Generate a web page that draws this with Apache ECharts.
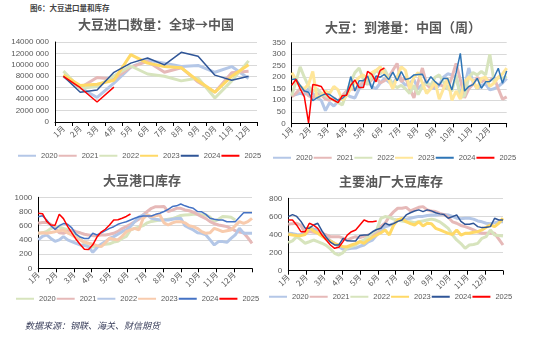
<!DOCTYPE html>
<html><head><meta charset="utf-8">
<script src="https://cdn.jsdelivr.net/npm/echarts@6/dist/echarts.min.js"></script>
<style>
html,body{margin:0;padding:0;background:#fff;width:539px;height:338px;overflow:hidden;}
.c{position:absolute;}
#hdr{position:absolute;left:30px;top:2px;font:bold 7.5px "Noto Sans CJK SC",sans-serif;color:#444;white-space:nowrap;}
#ftr{position:absolute;left:25px;top:319px;font:italic 9px "Noto Sans CJK SC",sans-serif;color:#3a3f5c;white-space:nowrap;}
</style></head><body>
<div id="hdr">图6：大豆进口量和库存</div>
<div id="c1" class="c" style="left:0;top:0;width:270px;height:170px"></div>
<div id="c2" class="c" style="left:265px;top:0;width:274px;height:170px"></div>
<div id="c3" class="c" style="left:0;top:165px;width:270px;height:173px"></div>
<div id="c4" class="c" style="left:265px;top:165px;width:274px;height:173px"></div>
<div id="ftr">数据来源：钢联、海关、财信期货</div>
<script>
// ---------- labels ----------
const years = ['2020','2021','2022','2023','2024','2025'];
const months = ['1月','2月','3月','4月','5月','6月','7月','8月','9月','10月','11月','12月'];
const monthTicks = months.concat(['']);
const weeks = ['W1','W2','W3','W4','W5','W6','W7','W8','W9','W10','W11','W12','W13','W14','W15','W16','W17','W18','W19','W20','W21','W22','W23','W24','W25','W26','W27','W28','W29','W30','W31','W32','W33','W34','W35','W36','W37','W38','W39','W40','W41','W42','W43','W44','W45','W46','W47','W48','W49','W50','W51','W52'];

// ---------- chart 1: 大豆进口数量 (吨, 月) ----------
const imp2020 = [8000000,6000000,4300000,6800000,9600000,10800000,10300000,9700000,9900000,8700000,9700000,7600000];
const imp2021 = [8100000,6000000,7800000,7500000,9600000,10600000,8700000,9500000,7000000,5200000,8600000,8900000];
const imp2022 = [8900000,5900000,6200000,8100000,9800000,8400000,8000000,7200000,7700000,4200000,7200000,10700000];
const imp2023 = [8200000,6400000,6600000,7300000,11800000,10300000,9700000,9500000,7200000,5200000,8000000,10000000];
const imp2024 = [8000000,5200000,5600000,8700000,10300000,11200000,10000000,12200000,11500000,8200000,7300000,8000000];
const imp2025 = [8000000,6000000,3500000,6100000];

// ---------- chart 2: 到港量 (周) ----------
const arr2020 = [120,125,130,125,150,130,110,100,55,90,75,95,110,125,115,110,150,170,185,160,150,175,195,180,170,200,185,165,175,190,150,170,180,160,150,165,200,215,210,200,130,160,240,180,150,165,170,145,150,160,175,195];
const arr2021 = [115,130,150,140,120,110,130,125,105,100,110,95,120,140,150,145,165,180,170,190,200,175,185,200,230,260,180,200,150,110,180,240,170,150,165,170,160,150,200,260,190,110,150,170,200,180,190,185,200,150,105,115];
const arr2022 = [120,180,245,200,160,140,150,130,120,110,100,90,80,130,180,220,240,190,170,200,230,215,235,200,170,155,165,150,130,165,125,160,175,165,200,210,180,150,140,210,110,120,200,220,210,225,210,300,180,200,195,205];
const arr2023 = [220,190,160,150,170,225,110,120,140,130,160,145,100,120,150,180,200,210,190,220,230,245,215,190,150,200,245,230,150,200,220,175,130,150,180,105,150,195,100,140,105,180,200,185,150,195,200,160,175,200,215,240];
const arr2024 = [190,192,165,140,135,98,110,120,128,125,112,100,108,125,203,140,185,185,205,150,205,200,212,190,222,185,225,190,195,210,212,213,174,202,181,166,195,195,145,220,304,140,160,168,195,152,180,182,199,239,174,227];
const arr2025 = [165,190,150,115,2,168,165,160,130,110,100,90,120,122,165,188,155,155,225,212,180,230,240];

// ---------- chart 3: 港口库存 (周) ----------
const port2020 = [493,500,520,560,590,580,560,545,530,480,420,350,305,300,310,320,340,345,370,380,420,450,540,563,580,600,640,660,670,680,680,690,700,720,745,750,755,760,760,755,750,720,660,690,728,725,718,680];
const port2021 = [634,645,648,620,560,500,493,520,540,516,500,480,470,460,460,470,470,480,493,520,560,587,620,657,690,751,800,845,868,868,870,800,820,845,845,822,810,790,760,728,700,657,630,610,600,587,560,530,510,500,430,352];
const port2022 = [399,450,470,420,380,400,446,400,376,352,329,320,305,225,290,340,376,420,446,480,516,540,587,657,720,751,751,704,690,680,680,680,690,700,704,600,570,540,500,493,470,400,329,376,376,366,420,470,563,493,493,493];
const port2023 = [493,500,493,505,516,530,540,500,470,430,399,370,352,340,320,305,360,422,410,399,450,516,540,563,540,700,751,728,740,751,640,610,640,657,657,640,600,587,560,516,493,500,563,540,516,530,540,600,657,634,657,704];
const port2024 = [725,740,680,600,549,600,630,620,570,480,440,420,420,493,470,500,530,563,586,620,640,656,680,705,727,735,737,737,760,775,800,830,870,880,905,880,860,845,800,795,760,704,690,680,680,656,656,656,720,783,783,783];
const port2025 = [775,770,660,610,605,760,700,590,500,410,335,270,265,330,440,510,550,610,680,685,705,730,765];

// ---------- chart 4: 主要油厂库存 (周) ----------
const mill2020 = [413,410,400,398,431,468,460,450,420,376,330,302,265,236,240,247,250,270,284,320,339,394,440,486,500,520,560,560,570,580,590,600,600,610,615,615,620,620,615,600,580,575,580,580,570,550,540,524,520,530,540,540];
const mill2021 = [513,520,524,500,413,432,425,418,413,395,376,376,376,360,339,360,376,365,380,395,395,430,490,524,600,650,690,690,700,660,680,700,708,672,660,653,634,620,590,540,524,500,487,470,450,430,413,413,413,413,350,284];
const mill2022 = [310,330,376,340,303,320,339,321,303,280,240,192,173,200,250,266,284,320,339,376,420,450,579,598,590,570,560,550,540,540,530,540,550,560,570,560,540,505,468,395,340,300,247,284,290,302,358,376,450,394,390,384];
const mill2023 = [402,395,390,387,400,480,440,413,380,350,328,300,284,266,266,284,300,321,303,340,370,395,420,450,395,500,561,579,541,520,505,541,494,524,520,468,450,431,413,400,450,394,413,413,425,431,450,480,505,487,524,579];
const mill2024 = [598,620,600,545,470,470,505,524,440,370,315,285,284,358,330,328,328,390,395,395,430,455,469,524,505,520,545,561,616,640,660,672,653,672,661,640,628,620,579,598,616,545,513,513,524,487,476,480,487,579,561,561];
const mill2025 = [560,560,503,431,431,524,503,468,394,339,284,247,258,321,394,431,450,505,560,541,541,548];

// ---------- common styling ----------
const FONT = '"Liberation Sans","Noto Sans CJK SC",sans-serif';
const GRAY = '#595959';
function ser(name, data, color, width, xi) {
  return {name:name, type:'line', data:data, xAxisIndex:xi||0, symbol:'none', smooth:false,
    lineStyle:{color:color, width:width}, itemStyle:{color:color},
    z: width < 2 ? 5 : 2, animation:false};
}
function title(text, left, top) {
  return {text:text, left:left, top:top, padding:0,
    textStyle:{fontSize:13, fontWeight:'bold', color:GRAY, fontFamily:'"Noto Sans CJK SC",sans-serif'}};
}
function legend(left, top) {
  return {data:years, left:left, top:top, itemWidth:18, itemHeight:8, itemGap:0, padding:0,
    itemStyle:{opacity:0},
    textStyle:{fontSize:7.5, color:GRAY, fontFamily:FONT}};
}
function yAxis(max, interval, fmt) {
  return {type:'value', min:0, max:max, interval:interval,
    axisLine:{show:true, lineStyle:{color:'#000', width:1}}, axisTick:{show:false},
    splitLine:{lineStyle:{color:'#d9d9d9', width:1}},
    axisLabel:{fontSize:8, color:GRAY, fontFamily:FONT, margin:6, formatter:fmt || function(v){return String(v);}}};
}
const xLab = {fontSize:8, color:GRAY, fontFamily:'"Noto Sans CJK SC",sans-serif', rotate:45, interval:0, margin:5};
function weekX() {
  return [
    {type:'category', data:weeks, boundaryGap:false, show:false},
    {type:'category', data:monthTicks, boundaryGap:false, position:'bottom',
      axisLine:{lineStyle:{color:'#000', width:1}}, axisTick:{show:true, length:4, interval:0, lineStyle:{color:'#000'}},
      axisLabel:xLab, splitLine:{show:false}}
  ];
}
function make(id, opt) {
  const ch = echarts.init(document.getElementById(id), null, {renderer:'canvas'});
  opt.animation = false;
  ch.setOption(opt);
}
function fmtBig(v) {
  if (v === 0) return '0';
  return Math.floor(v/1000) + ' ' + ('000' + (v % 1000)).slice(-3);
}

// chart 1
make('c1', {
  title: title('大豆进口数量：全球→中国', 78, 18),
  legend: legend(17, 152),
  grid: {left:55, right:13, top:42, bottom:48, outerBoundsMode:'none'},
  xAxis: {type:'category', data:months, boundaryGap:true,
    axisLine:{lineStyle:{color:'#000', width:1}}, axisTick:{show:true, length:4, lineStyle:{color:'#000'}},
    axisLabel:xLab},
  yAxis: yAxis(14000000, 2000000, fmtBig),
  series: [
    ser('2020', imp2020, '#b4c7e7', 3),
    ser('2021', imp2021, '#e6b9b8', 3),
    ser('2022', imp2022, '#d7e4bd', 3),
    ser('2023', imp2023, '#ffd966', 3),
    ser('2024', imp2024, '#2f5597', 1.5),
    ser('2025', imp2025, '#ff0000', 1.5)
  ]
});

// chart 2
make('c2', {
  title: title('大豆：到港量：中国（周）', 60, 21),
  legend: legend(7, 154),
  grid: {left:26.7, right:32.3, top:42.7, bottom:46.7, outerBoundsMode:'none'},
  xAxis: weekX(),
  yAxis: yAxis(350, 50),
  series: [
    ser('2020', arr2020, '#b4c7e7', 3),
    ser('2021', arr2021, '#e6b9b8', 3),
    ser('2022', arr2022, '#d7e4bd', 3),
    ser('2023', arr2023, '#ffe699', 3),
    ser('2024', arr2024, '#2e75b6', 1.5),
    ser('2025', arr2025, '#ff0000', 1.5)
  ]
});

// chart 3
make('c3', {
  title: title('大豆港口库存', 103, 8.5),
  legend: legend(15, 130),
  grid: {left:38.3, right:18, top:32.3, bottom:69.7, outerBoundsMode:'none'},
  xAxis: weekX(),
  yAxis: yAxis(1000, 200),
  series: [
    ser('2020', port2020, '#d7e4bd', 3),
    ser('2021', port2021, '#e6b9b8', 3),
    ser('2022', port2022, '#b4c7e7', 3),
    ser('2023', port2023, '#f8cbad', 3),
    ser('2024', port2024, '#4472c4', 1.5),
    ser('2025', port2025, '#ff0000', 1.5)
  ]
});

// chart 4
make('c4', {
  title: title('主要油厂大豆库存', 74, 9.5),
  legend: legend(3, 128),
  grid: {left:23.3, right:36, top:33.3, bottom:67.3, outerBoundsMode:'none'},
  xAxis: weekX(),
  yAxis: yAxis(800, 200),
  series: [
    ser('2020', mill2020, '#b4c7e7', 3),
    ser('2021', mill2021, '#e6b9b8', 3),
    ser('2022', mill2022, '#d7e4bd', 3),
    ser('2023', mill2023, '#ffd966', 3),
    ser('2024', mill2024, '#2f5597', 1.5),
    ser('2025', mill2025, '#ff0000', 1.5)
  ]
});
</script>
</body></html>
